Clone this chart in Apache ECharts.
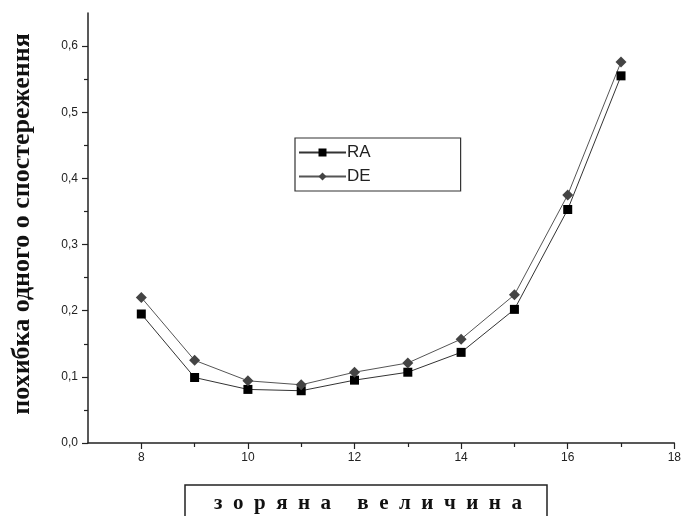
<!DOCTYPE html>
<html>
<head>
<meta charset="utf-8">
<script src="https://cdn.jsdelivr.net/npm/echarts@6/dist/echarts.min.js"></script>
<style>html,body{margin:0;padding:0;background:#fff}#c{width:684px;height:516px}</style>
</head>
<body>
<div id="c"></div>
<script>
var magnitudes = [8, 9, 10, 11, 12, 13, 14, 15, 16, 17];
var raValues = [0.195, 0.099, 0.081, 0.079, 0.095, 0.107, 0.137, 0.202, 0.353, 0.555];
var deValues = [0.220, 0.125, 0.094, 0.088, 0.107, 0.121, 0.157, 0.224, 0.375, 0.576];
var xMajorTicks = [8, 10, 12, 14, 16, 18];
var xMinorTicks = [9, 11, 13, 15, 17];
var yMajorTicks = [0, 0.1, 0.2, 0.3, 0.4, 0.5, 0.6];
var yMinorTicks = [0.05, 0.15, 0.25, 0.35, 0.45, 0.55];
var yTitle = 'похибка одного о спостереження';
var xTitle = 'з  о  р  я  н  а     в  е  л  и  ч  и  н  а';

function pairs(xs, ys) { return xs.map(function (x, i) { return [x, ys[i]]; }); }

var chart = echarts.init(document.getElementById('c'), null, {renderer: 'canvas'});
var axisColor = '#222';
var labelFont = {fontFamily: 'Liberation Sans', fontSize: 12, color: '#222'};
chart.setOption({
  animation: false,
  backgroundColor: '#fff',
  grid: {left: 88, right: 6, top: 13, bottom: 73, containLabel: false},
  xAxis: [{
    type: 'value', min: 7, max: 18, interval: 1,
    axisLine: {lineStyle: {color: axisColor, width: 1.5}},
    axisTick: {customValues: xMajorTicks, length: 6, lineStyle: {color: axisColor, width: 1.2}},
    axisLabel: Object.assign({customValues: xMajorTicks, margin: 9}, labelFont),
    splitLine: {show: false}
  }, {
    type: 'value', min: 7, max: 18, interval: 1, position: 'bottom',
    axisLine: {show: false},
    axisTick: {customValues: xMinorTicks, length: 4, lineStyle: {color: axisColor, width: 1.2}},
    axisLabel: {show: false},
    splitLine: {show: false}
  }],
  yAxis: [{
    type: 'value', min: 0, max: 0.65, interval: 0.1,
    axisLine: {show: true, lineStyle: {color: axisColor, width: 1.5}},
    axisTick: {show: true, customValues: yMajorTicks, length: 6, lineStyle: {color: axisColor, width: 1.2}},
    axisLabel: Object.assign({customValues: yMajorTicks, margin: 10,
      formatter: function (v) { return v.toFixed(1).replace('.', ','); }}, labelFont),
    splitLine: {show: false}
  }, {
    type: 'value', min: 0, max: 0.65, interval: 0.05, position: 'left', offset: 0,
    axisLine: {show: false},
    axisTick: {show: true, customValues: yMinorTicks, length: 4, lineStyle: {color: axisColor, width: 1.2}},
    axisLabel: {show: false},
    splitLine: {show: false}
  }],
  legend: {
    left: 295, top: 138, orient: 'vertical',
    padding: [6, 90, 6, 3], itemGap: 7,
    itemWidth: 47, itemHeight: 10,
    borderColor: '#333', borderWidth: 1.2, backgroundColor: '#fff',
    textStyle: {fontFamily: 'Liberation Sans', fontSize: 17, color: '#222', padding: [0, 0, 0, -4]},
    data: ['RA', 'DE']
  },
  series: [{
    name: 'RA', type: 'line', data: pairs(magnitudes, raValues),
    symbol: 'rect', symbolSize: 9,
    itemStyle: {color: '#000'},
    lineStyle: {color: '#333', width: 1}
  }, {
    name: 'DE', type: 'line', data: pairs(magnitudes, deValues),
    symbol: 'diamond', symbolSize: 11,
    itemStyle: {color: '#444'},
    lineStyle: {color: '#555', width: 1}
  }],
  graphic: [{
    type: 'text', x: 22, y: 224, rotation: Math.PI / 2,
    style: {text: yTitle, fontFamily: 'Liberation Serif', fontWeight: 'bold', fontSize: 26,
      fill: '#111', align: 'center', verticalAlign: 'middle'}
  }, {
    type: 'rect', shape: {x: 185, y: 485, width: 362, height: 45},
    style: {fill: '#fff', stroke: '#222', lineWidth: 1.5}
  }, {
    type: 'text', x: 368, y: 504,
    style: {text: xTitle, fontFamily: 'Liberation Serif', fontWeight: 'bold', fontSize: 21,
      fill: '#111', align: 'center', verticalAlign: 'middle'}
  }]
});
</script>
</body>
</html>
